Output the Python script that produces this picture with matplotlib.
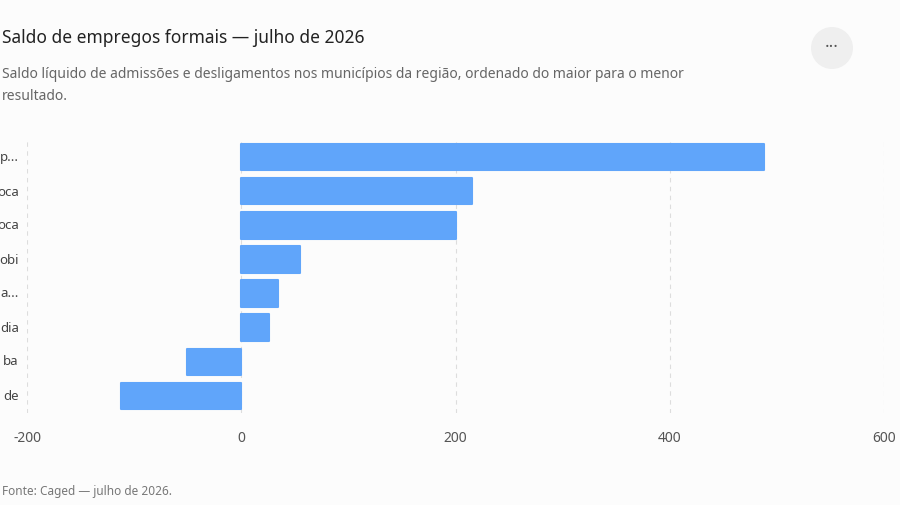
import matplotlib
matplotlib.use("Agg")
import matplotlib.pyplot as plt
from matplotlib.patches import Ellipse

labels = ["p...", "oca", "oca", "obi", "a...", "dia", "ba", "de"]
values = [488, 215, 200, 55, 34, 26, -51, -112]
xticks = [-200, 0, 200, 400, 600]

plt.rcParams['font.family'] = ['Noto Sans', 'DejaVu Sans']
W, H = 900, 506
fig = plt.figure(figsize=(W/100, H/100), dpi=100)
fig.patch.set_facecolor('#fcfcfc')

ax = fig.add_axes([27/W, 1-414/H, (884-27)/W, (414-141)/H])
ax.set_facecolor('#fcfcfc')
y = list(range(len(values)))
ax.barh(y, values, height=0.78, color='#60a5fa', edgecolor='#60a5fa',
        linewidth=1.5, joinstyle='round', zorder=3)
ax.set_ylim(len(values)-0.5, -0.5)
ax.set_xlim(-200, 600)
ax.set_xticks(xticks)
ax.set_xticklabels([str(t) for t in xticks], color='#555555', fontsize=10)
ax.set_yticks([])
for t in xticks:
    ax.axvline(t, color='#dddddd', linestyle=(0, (4, 4)), linewidth=0.8, zorder=1)
for s in ax.spines.values():
    s.set_visible(False)
ax.tick_params(axis='x', length=0, pad=12)
for yi, lab in zip(y, labels):
    ax.text(19/W, 1-(158+34*yi)/H, lab, transform=fig.transFigure, ha='right',
            va='center', fontsize=9.5, color='#444444')

fig.text(2/W, 1-38/H, "Saldo de empregos formais — julho de 2026", fontsize=12.5,
         color='#222222', va='center', fontweight='semibold')
fig.text(2/W, 1-74/H, "Saldo líquido de admissões e desligamentos nos municípios da região, ordenado do maior para o menor",
         fontsize=10, color='#666666', va='center')
fig.text(2/W, 1-97/H, "resultado.", fontsize=10, color='#666666', va='center')
fig.text(2/W, 1-492/H, "Fonte: Caged — julho de 2026.", fontsize=8.5, color='#777777', va='center')

fig.patches.append(Ellipse((832/W, 1-49/H), 42/W, 42/H, transform=fig.transFigure,
                           facecolor='#efefef', edgecolor='none'))
fig.text(832/W, 1-48/H, "···", ha='center', va='center', fontsize=12, color='#555555')

fig.savefig("out.png", dpi=100, facecolor=fig.get_facecolor())
